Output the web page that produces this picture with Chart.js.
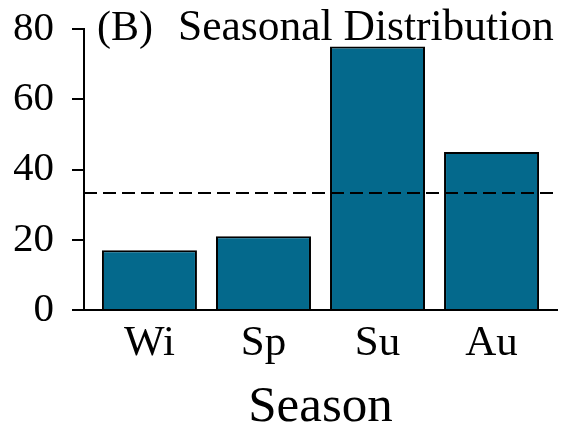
<!DOCTYPE html>
<html>
<head>
<meta charset="utf-8">
<script src="https://cdn.jsdelivr.net/npm/chart.js@4"></script>
<style>
  html, body { margin: 0; padding: 0; background: #fff; }
  #wrap { width: 562px; height: 426px; }
</style>
</head>
<body>
<div id="wrap"><canvas id="myChart" width="562" height="426"></canvas></div>
<script>
// datos
const seasons = ["Wi", "Sp", "Su", "Au"];
const counts = [17, 21, 75, 45];
const meanLine = 33.3;
const yTicks = [0, 20, 40, 60, 80];

const serif = "'Liberation Serif', 'Times New Roman', serif";
const barData = seasons.map((s, i) => ({ x: i, y: counts[i] }));
const xMin = -0.574;
const xMax = seasons.length - 1 + 0.574;
const lineData = [
  { x: xMin, y: meanLine },
  { x: xMax, y: meanLine },
];

// titulo dentro del area del grafico
const panelTitle = {
  id: "panelTitle",
  afterDraw(chart) {
    const c = chart.ctx;
    const a = chart.chartArea;
    c.save();
    c.fillStyle = "#000";
    c.textBaseline = "alphabetic";
    c.font = "42px " + serif;
    c.fillText("(B)", a.left + 13, a.top + 11);
    c.font = "43.5px " + serif;
    c.fillText("Seasonal Distribution", a.left + 94, a.top + 11);
    c.restore();
  },
};

const ctx = document.getElementById("myChart");
new Chart(ctx, {
  data: {
    datasets: [
      {
        type: "bar",
        label: "Count",
        data: barData,
        backgroundColor: "#04698c",
        borderColor: "#000",
        borderWidth: 2,
        categoryPercentage: 1,
        barPercentage: 0.833,
        order: 2,
      },
      {
        type: "line",
        label: "Mean",
        data: lineData,
        borderColor: "#000",
        borderWidth: 2,
        borderDash: [13, 6],
        pointRadius: 0,
        fill: false,
        order: 1,
      },
    ],
  },
  options: {
    responsive: false,
    animation: false,
    layout: { padding: { left: 14, right: 5, top: 29, bottom: 0 } },
    plugins: { legend: { display: false }, tooltip: { enabled: false } },
    scales: {
      x: {
        type: "linear",
        offset: false,
        min: xMin,
        max: xMax,
        afterBuildTicks: (scale) => {
          scale.ticks = seasons.map((s, i) => ({ value: i }));
        },
        afterFit: (scale) => {
          scale.height = 116;
          scale.paddingLeft = 0;
          scale.paddingRight = 0;
        },
        ticks: {
          callback: (v) => seasons[v],
          font: { family: serif, size: 43 },
          color: "#000",
          padding: 8,
          maxRotation: 0,
          autoSkip: false,
        },
        grid: { display: false, drawTicks: false },
        border: { color: "#000", width: 2 },
        title: {
          display: true,
          text: "Season",
          font: { family: serif, size: 51, lineHeight: 0.74 },
          color: "#000",
          padding: { top: 0, bottom: 0 },
        },
      },
      y: {
        min: 0,
        max: 80,
        afterBuildTicks: (scale) => {
          const t = [];
          for (let v = 0; v <= 80; v += 10) t.push({ value: v });
          scale.ticks = t;
        },
        afterFit: (scale) => {
          scale.width = 70;
          scale.paddingTop = 0;
          scale.paddingBottom = 0;
        },
        ticks: {
          callback: (v) => (yTicks.includes(v) ? v : ""),
          font: { family: serif, size: 41 },
          color: "#000",
          padding: 18,
        },
        grid: { drawOnChartArea: false, tickLength: 12, color: "#000", lineWidth: 2 },
        border: { color: "#000", width: 2 },
      },
    },
  },
  plugins: [panelTitle],
});
</script>
</body>
</html>
